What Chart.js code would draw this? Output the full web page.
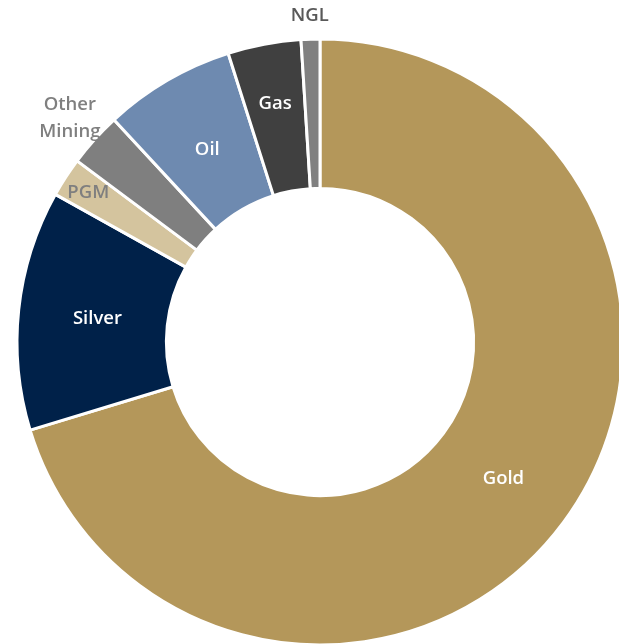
<!DOCTYPE html>
<html>
<head>
<meta charset="utf-8">
<script src="https://cdn.jsdelivr.net/npm/chart.js@4/dist/chart.umd.min.js"></script>
<style>
  html, body { margin: 0; padding: 0; background: #fff; overflow: hidden; }
  #wrap { position: absolute; left: 0; top: 0; width: 640px; height: 684px; }
</style>
</head>
<body>
<div id="wrap"><canvas id="mixChart"></canvas></div>
<script>
// revenue mix by commodity (%)
const labels = ["Gold", "Silver", "PGM", "Other Mining", "Oil", "Gas", "NGL"];
const shares = [70.3, 12.8, 2.1, 2.9, 7.0, 3.9, 1.0];
const colors = ["#B4975A", "#002149", "#D4C49E", "#7F7F7F", "#6E8AB0", "#404040", "#808080"];

// where each name goes: share of the ring width (<=1) or a multiple of the outer radius (>1)
const labelStyle = {
    "Gold": { r: 0.5, color: "#ffffff" },
    "Silver": { r: 0.47, color: "#ffffff" },
    "PGM": { r: 0.82, color: "#7F7F7F" },
    "Other Mining": { r: 1.11, color: "#7F7F7F", lines: ["Other", "Mining"] },
    "Oil": { r: 0.47, color: "#ffffff" },
    "Gas": { r: 0.6, color: "#ffffff" },
    "NGL": { r: 1.08, color: "#595959" }
};

const sliceLabels = {
    id: "sliceLabels",
    afterDatasetsDraw(chart) {
        const ctx = chart.ctx;
        const meta = chart.getDatasetMeta(0);
        ctx.save();
        ctx.font = "600 18.5px 'Open Sans', sans-serif";
        ctx.textAlign = "center";
        ctx.textBaseline = "middle";
        meta.data.forEach((arc, i) => {
            const p = arc.getProps(["x", "y", "startAngle", "endAngle", "innerRadius", "outerRadius"], true);
            const st = labelStyle[labels[i]];
            const mid = (p.startAngle + p.endAngle) / 2;
            const r = st.r <= 1
                ? p.innerRadius + (p.outerRadius - p.innerRadius) * st.r
                : p.outerRadius * st.r;
            const x = p.x + Math.cos(mid) * r;
            const y = p.y + Math.sin(mid) * r + 1;
            ctx.fillStyle = st.color;
            const lines = st.lines || [labels[i]];
            lines.forEach((t, k) => {
                ctx.fillText(t, x, y + (k - (lines.length - 1) / 2) * 27);
            });
        });
        ctx.restore();
    }
};

new Chart(document.getElementById("mixChart"), {
    type: "doughnut",
    data: {
        labels: labels,
        datasets: [{
            data: shares,
            backgroundColor: colors,
            borderColor: "#ffffff",
            borderWidth: 3,
            radius: 303,
            cutout: "50.7%"
        }]
    },
    options: {
        responsive: true,
        maintainAspectRatio: false,
        animation: false,
        plugins: {
            legend: { display: false },
            tooltip: { enabled: false }
        }
    },
    plugins: [sliceLabels]
});
</script>
</body>
</html>
